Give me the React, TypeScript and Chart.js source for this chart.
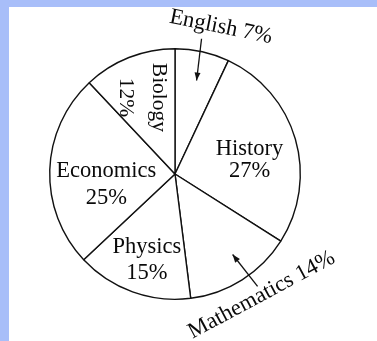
import React, { useEffect, useRef } from "react";
import { Chart, registerables } from "chart.js";

Chart.register(...registerables);

// ---- data ----
const categories = ["English", "History", "Mathematics", "Physics", "Economics", "Biology"];
const percentages = [7, 27, 14, 15, 25, 12];
const labelLines = [
  ["English 7%"],
  ["History", "27%"],
  ["Mathematics 14%"],
  ["Physics", "15%"],
  ["Economics", "25%"],
  ["Biology", "12%"],
];

// ---- label layout (style) ----
type LabelStyle = { r: number; dTheta: number; rot: number; baselines: number[]; size: number };
const labelStyles: LabelStyle[] = [
  { r: 1.182, dTheta: 5.0, rot: 11.5, baselines: [0], size: 22.5 },
  { r: 0.608, dTheta: 4.5, rot: 0, baselines: [-3.5, 18.5], size: 22.5 },
  { r: 1.235, dTheta: -2.9, rot: -28.2, baselines: [0], size: 22.5 },
  { r: 0.707, dTheta: -1.3, rot: 0, baselines: [-5.5, 20.5], size: 22.5 },
  { r: 0.553, dTheta: -9.6, rot: 0, baselines: [-6, 21], size: 22.5 },
  { r: 0.671, dTheta: -2.8, rot: 90, baselines: [-13, 20], size: 21.5 },
];
// arrows: slice index, from (r, dTheta) to (r, dTheta)
const arrowStyles = [
  { index: 0, from: [1.1, -1.5], to: [0.766, 0.4] },
  { index: 2, from: [1.113, -3.9], to: [0.79, -3.2] },
];

const deg = Math.PI / 180;

const labelPlugin = {
  id: "sliceLabels",
  afterDatasetsDraw(chart: any) {
    const ctx = chart.ctx as CanvasRenderingContext2D;
    const meta = chart.getDatasetMeta(0);
    const polar = (i: number, r: number, dTheta: number) => {
      const p = meta.data[i].getProps(["x", "y", "startAngle", "endAngle", "outerRadius"], true);
      const a = (p.startAngle + p.endAngle) / 2 + dTheta * deg;
      return [p.x + Math.cos(a) * r * p.outerRadius, p.y + Math.sin(a) * r * p.outerRadius];
    };
    ctx.save();
    ctx.fillStyle = "#0a0a0a";
    ctx.textAlign = "center";
    ctx.textBaseline = "alphabetic";
    labelLines.forEach((lines, i) => {
      const st = labelStyles[i];
      const [x, y] = polar(i, st.r, st.dTheta);
      ctx.save();
      ctx.translate(x, y);
      ctx.rotate(st.rot * deg);
      ctx.font = `${st.size}px "Liberation Serif", "Times New Roman", serif`;
      lines.forEach((t, k) => ctx.fillText(t, 0, st.baselines[k]));
      ctx.restore();
    });
    ctx.strokeStyle = "#111";
    ctx.lineWidth = 1.3;
    arrowStyles.forEach((ar) => {
      const [x1, y1] = polar(ar.index, ar.from[0], ar.from[1]);
      const [x2, y2] = polar(ar.index, ar.to[0], ar.to[1]);
      ctx.beginPath();
      ctx.moveTo(x1, y1);
      ctx.lineTo(x2, y2);
      ctx.stroke();
      const ang = Math.atan2(y2 - y1, x2 - x1);
      const len = 8, half = 3;
      ctx.beginPath();
      ctx.moveTo(x2, y2);
      ctx.lineTo(x2 - Math.cos(ang) * len - Math.sin(ang) * half, y2 - Math.sin(ang) * len + Math.cos(ang) * half);
      ctx.lineTo(x2 - Math.cos(ang) * len + Math.sin(ang) * half, y2 - Math.sin(ang) * len - Math.cos(ang) * half);
      ctx.closePath();
      ctx.fillStyle = "#111";
      ctx.fill();
    });
    ctx.restore();
  },
};

export default function App() {
  const ref = useRef<HTMLCanvasElement | null>(null);
  useEffect(() => {
    document.body.style.margin = "0";
    const chart = new Chart(ref.current as HTMLCanvasElement, {
      type: "pie",
      data: {
        labels: categories,
        datasets: [
          {
            data: percentages,
            backgroundColor: "#ffffff",
            borderColor: "#111111",
            borderWidth: 1.4,
            hoverOffset: 0,
          },
        ],
      },
      options: {
        animation: false,
        responsive: false,
        devicePixelRatio: 1,
        events: [],
        layout: { padding: { left: 49, right: 76, top: 48, bottom: 41 } },
        plugins: { legend: { display: false }, tooltip: { enabled: false } },
      },
      plugins: [labelPlugin],
    });
    return () => chart.destroy();
  }, []);
  return (
    <div style={{ position: "fixed", left: 0, top: 0, width: 377, height: 341, background: "#a8bef9" }}>
      <div style={{ position: "absolute", left: 9, top: 7, right: 0, bottom: 0, background: "#ffffff" }} />
      <canvas ref={ref} width={377} height={341} style={{ position: "absolute", left: 0, top: 0, display: "block" }} />
    </div>
  );
}
